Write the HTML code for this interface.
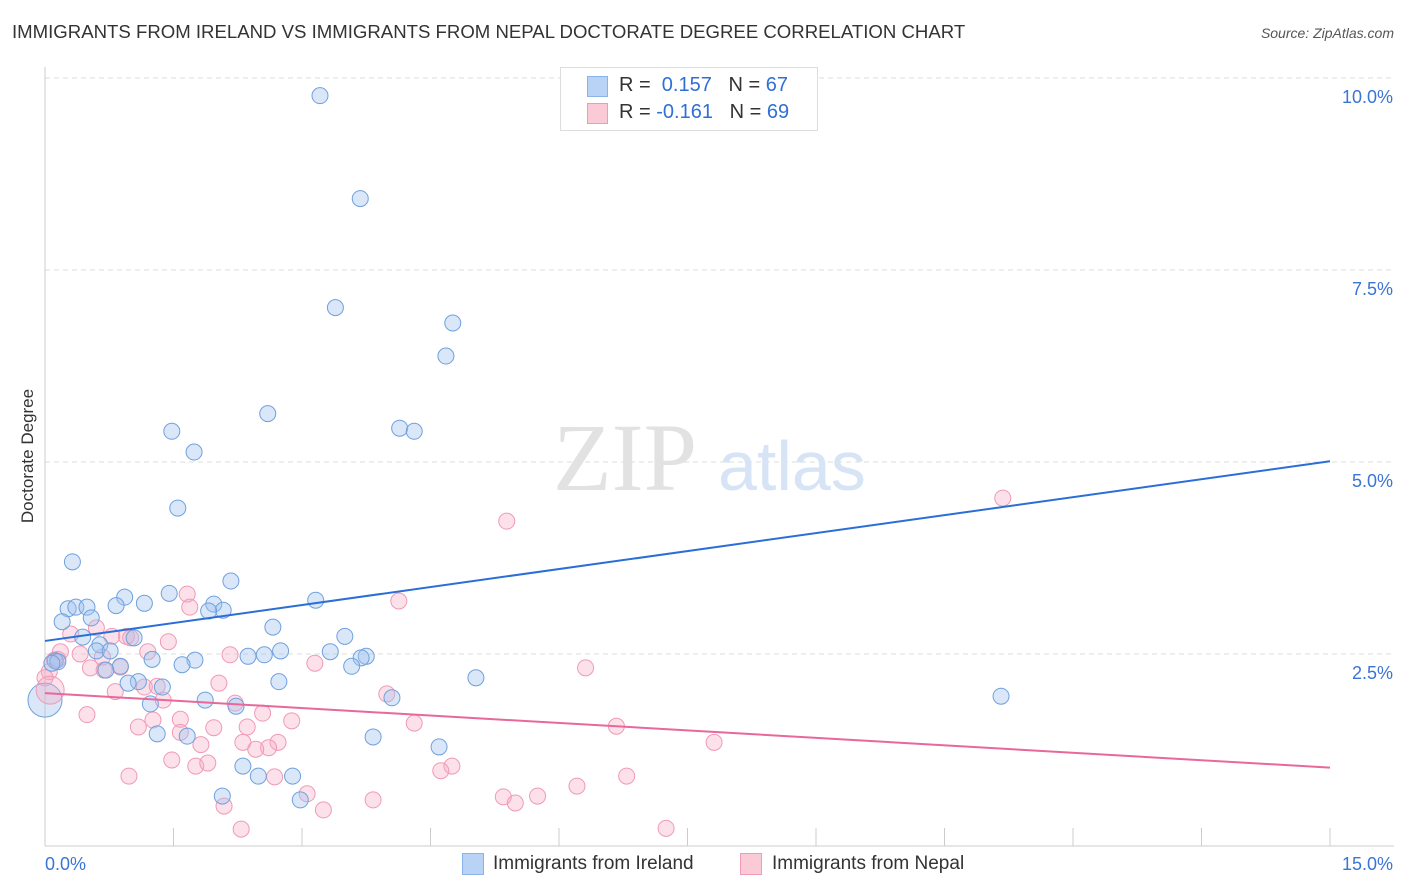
<!DOCTYPE html>
<html><head><meta charset="utf-8"><style>
body{margin:0;background:#fff;font-family:"Liberation Sans",sans-serif;}
#wrap{position:relative;width:1406px;height:892px;overflow:hidden;}
.t{position:absolute;white-space:nowrap;}
</style></head><body>
<div id="wrap">
<div class="t" style="left:12px;top:21px;font-size:18.6px;color:#333;">IMMIGRANTS FROM IRELAND VS IMMIGRANTS FROM NEPAL DOCTORATE DEGREE CORRELATION CHART</div>
<div class="t" style="right:12px;top:25px;font-size:14px;color:#555;font-style:italic;">Source: ZipAtlas.com</div>
<div class="t" style="left:28px;top:456px;font-size:17px;color:#333;transform:translate(-50%,-50%) rotate(-90deg);">Doctorate Degree</div>
<svg id="svg" width="1406" height="892" style="position:absolute;left:0;top:0"></svg>
<div style="position:absolute;left:560px;top:67px;width:256px;height:62px;border:1px solid #ddd;background:#fff;">
 <div style="position:absolute;left:26px;top:8px;width:19px;height:19px;background:#b8d3f5;border:1px solid #8ab4e8;"></div>
 <div class="t" style="left:58px;top:6px;font-size:20px;color:#333;">R = &nbsp;<span style="color:#2f6fd6">0.157</span> &nbsp;&nbsp;N = <span style="color:#2f6fd6">67</span></div>
 <div style="position:absolute;left:26px;top:35px;width:19px;height:19px;background:#fbcad7;border:1px solid #f29ab5;"></div>
 <div class="t" style="left:58px;top:33px;font-size:20px;color:#333;">R = <span style="color:#2f6fd6">-0.161</span> &nbsp;&nbsp;N = <span style="color:#2f6fd6">69</span></div>
</div>
<div style="position:absolute;left:462px;top:853px;width:20px;height:20px;background:#b8d3f5;border:1px solid #8ab4e8;"></div>
<div class="t" style="left:493px;top:853px;font-size:19px;color:#333;">Immigrants from Ireland</div>
<div style="position:absolute;left:740px;top:853px;width:20px;height:20px;background:#fbcad7;border:1px solid #f29ab5;"></div>
<div class="t" style="left:772px;top:853px;font-size:19px;color:#333;">Immigrants from Nepal</div>
</div>
<script>
const yTicks=[2.5,5.0,7.5,10.0];
const yTickLabels=["2.5%","5.0%","7.5%","10.0%"];
const xTickVals=[0,1.5,3,4.5,6,7.5,9,10.5,12,13.5,15];
const xEndLabels=["0.0%","15.0%"];
const irelandX=[3.21,3.68,3.39,4.76,4.68,2.60,4.14,4.31,1.48,1.74,1.55,0.32,2.17,1.45,0.93,1.16,0.83,3.16,0.27,0.36,0.49,1.97,2.08,1.91,0.20,0.54,2.66,3.50,0.44,1.04,0.64,0.60,0.76,2.56,2.75,2.37,3.33,3.75,3.69,1.25,1.75,1.60,3.58,0.12,0.15,0.08,0.88,0.71,5.03,2.73,1.09,0.97,1.37,4.05,1.87,1.23,2.23,11.16,1.31,1.66,3.83,4.60,2.31,2.49,2.89,2.07,2.98];
const irelandY=[9.77,8.43,7.01,6.81,6.38,5.63,5.44,5.40,5.40,5.13,4.40,3.70,3.45,3.29,3.24,3.16,3.13,3.20,3.09,3.11,3.11,3.15,3.07,3.06,2.92,2.97,2.85,2.73,2.72,2.71,2.62,2.54,2.54,2.49,2.54,2.47,2.53,2.47,2.45,2.43,2.42,2.36,2.34,2.41,2.40,2.38,2.34,2.29,2.19,2.14,2.14,2.12,2.07,1.93,1.90,1.85,1.82,1.95,1.46,1.43,1.42,1.29,1.04,0.91,0.91,0.65,0.60];
const nepalX=[11.18,5.39,4.13,1.66,1.69,0.30,0.60,0.95,0.78,1.00,1.44,0.18,0.41,0.67,2.16,1.20,3.15,6.31,0.53,0.11,0.15,0.05,0.69,0.88,2.03,1.16,1.31,3.99,0.82,1.38,2.22,2.54,2.88,4.31,6.67,1.58,1.26,1.09,1.97,2.36,1.58,0.49,2.31,1.82,7.81,2.72,2.61,2.46,1.48,1.76,1.90,4.75,4.62,0.98,6.79,2.68,3.06,5.35,5.75,6.21,3.83,5.49,2.09,3.25,2.29,7.25,0.00];
const nepalY=[4.53,4.23,3.19,3.28,3.11,2.76,2.84,2.73,2.73,2.71,2.66,2.53,2.50,2.46,2.49,2.53,2.38,2.32,2.32,2.42,2.43,2.27,2.29,2.33,2.12,2.07,2.08,1.98,2.01,1.90,1.86,1.73,1.63,1.60,1.56,1.65,1.64,1.55,1.54,1.55,1.48,1.71,1.35,1.32,1.35,1.35,1.28,1.26,1.12,1.04,1.08,1.04,0.98,0.91,0.91,0.90,0.68,0.64,0.65,0.78,0.60,0.56,0.52,0.47,0.22,0.23,2.19];
const irelandBig=[0,1.90];
const nepalBig=[0.06,2.03];
const irelandTrend=[2.67,5.01];
const nepalTrend=[1.99,1.02];
const X0=45,X1=1330,Y0=846,PXY=76.8;
const sx=v=>X0+(X1-X0)*v/15;
const sy=v=>Y0-v*PXY;
const svg=document.getElementById('svg');
const NS='http://www.w3.org/2000/svg';
function mk(tag,at){const e=document.createElementNS(NS,tag);for(const k in at)e.setAttribute(k,at[k]);svg.appendChild(e);return e;}
yTicks.forEach((v,i)=>{
 const l=mk('line',{x1:X0,x2:1394,y1:sy(v),y2:sy(v),stroke:'#ddd','stroke-dasharray':'5,4'});
 
 
 const t=mk('text',{x:1393,y:sy(v)+25,'text-anchor':'end','font-size':18,fill:'#3a74d6','font-family':'Liberation Sans, sans-serif'});
 t.textContent=yTickLabels[i];
 
 
});
const ax=mk('line',{x1:X0,x2:X0,y1:67,y2:Y0,stroke:'#ccc'});


const bx=mk('line',{x1:X0,x2:1394,y1:Y0,y2:Y0,stroke:'#ccc'});


xTickVals.forEach(v=>{
 const l=mk('line',{x1:sx(v),x2:sx(v),y1:Y0,y2:Y0-18,stroke:'#ccc'});
 
 
});
const xl0=mk('text',{x:45,y:870,'font-size':18,fill:'#3a74d6','font-family':'Liberation Sans, sans-serif'});
xl0.textContent=xEndLabels[0];


const xl1=mk('text',{x:1393,y:870,'text-anchor':'end','font-size':18,fill:'#3a74d6','font-family':'Liberation Sans, sans-serif'});
xl1.textContent=xEndLabels[1];


const wm=mk('text',{x:553,y:490,'font-size':96,fill:'#e2e2e2','font-family':'Liberation Serif, serif'});
wm.textContent='ZIP';


const wm2=mk('text',{x:718,y:490,'font-size':70,fill:'#d6e4f6','font-family':'Liberation Sans, sans-serif'});
wm2.textContent='atlas';


function pts(xs,ys,fill,stroke,name){
 xs.forEach((v,i)=>{
  const c=mk('circle',{cx:sx(v),cy:sy(ys[i]),r:8,fill:fill,stroke:stroke,'stroke-width':1});
  
  
 });
}
pts(nepalX,nepalY,'rgba(246,170,195,0.35)','#f09ab5','nepal-point');
pts(irelandX,irelandY,'rgba(160,196,240,0.4)','#6fa1de','ireland-point');
const b1=mk('circle',{cx:sx(irelandBig[0]),cy:sy(irelandBig[1]),r:17,fill:'rgba(160,196,240,0.4)',stroke:'#6fa1de'});


const b2=mk('circle',{cx:sx(nepalBig[0]),cy:sy(nepalBig[1]),r:14,fill:'rgba(246,170,195,0.35)',stroke:'#f09ab5'});


const tl1=mk('line',{x1:sx(0),y1:sy(irelandTrend[0]),x2:sx(15),y2:sy(irelandTrend[1]),stroke:'#2a6fd6','stroke-width':2});


const tl2=mk('line',{x1:sx(0),y1:sy(nepalTrend[0]),x2:sx(15),y2:sy(nepalTrend[1]),stroke:'#e8689a','stroke-width':2});


</script>
</body></html>
